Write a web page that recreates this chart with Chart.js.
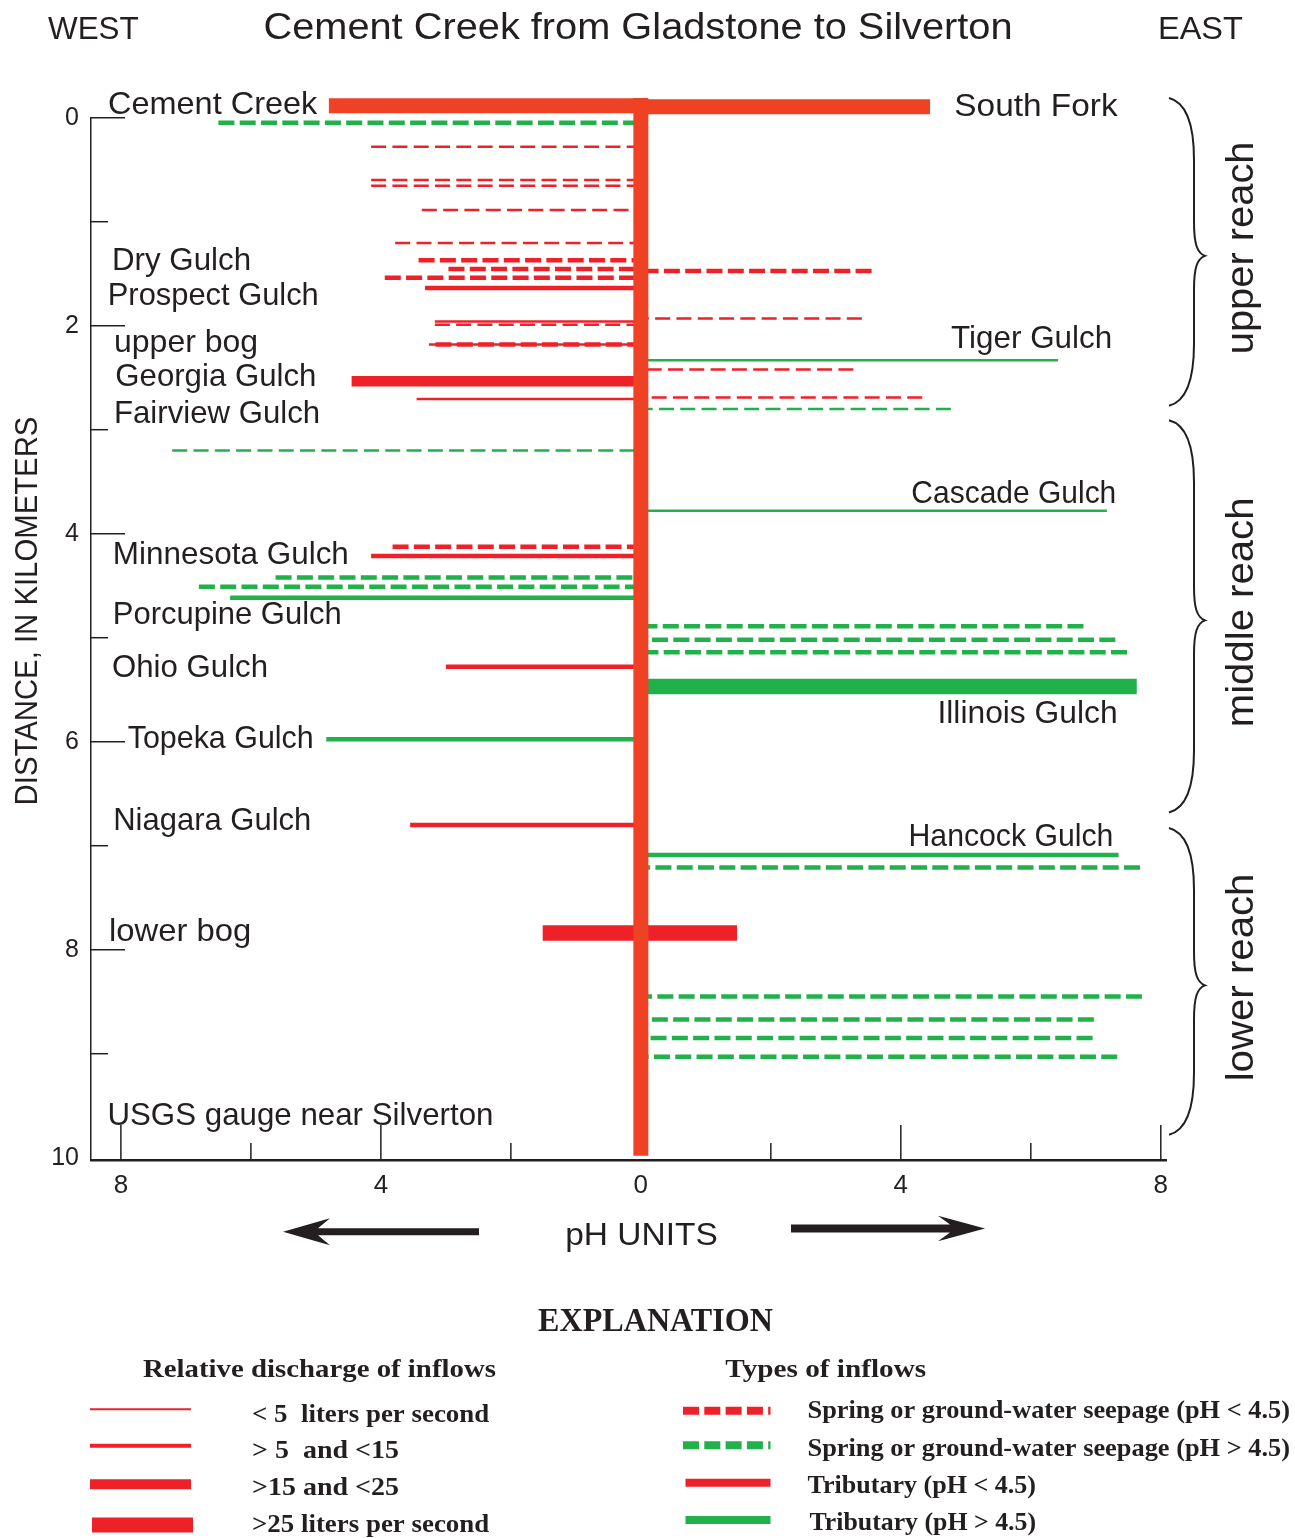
<!DOCTYPE html>
<html>
<head>
<meta charset="utf-8">
<title>Cement Creek from Gladstone to Silverton</title>
<script src="https://cdn.jsdelivr.net/npm/chart.js@4.4.1/dist/chart.umd.min.js"></script>
<style>
  html, body { margin: 0; padding: 0; background: #ffffff; }
  canvas { display: block; }
</style>
</head>
<body>
<canvas id="creek" width="1295" height="1538"></canvas>
<script>
// ---- Inflows to Cement Creek (distance downstream, in km; pH signed by bank: west < 0 < east)
const inflowKm = [0.048, 0.279, 0.600, 0.655, 0.888, 1.205, 1.371, 1.455, 1.475, 1.538,
                  1.637, 1.930, 1.960, 1.990, 2.180, 2.180, 2.333, 2.420, 2.535, 2.690,
                  2.705, 2.800, 3.200, 3.780, 4.125, 4.214, 4.420, 4.510, 4.615, 4.890,
                  5.020, 5.140, 5.280, 5.470, 5.977, 6.800, 7.090, 7.210, 7.840, 7.840,
                  8.450, 8.670, 8.850, 9.030];
const inflowPh = [-6.50, -4.15, -4.15, -4.15, -3.37, -3.78, -3.42, -2.96, 3.55, -3.94,
                  -3.32, 3.40, -3.17, -3.17, -3.26, -3.16, 6.42, 3.27, -4.45, 4.33,
                  -3.45, 4.77, -7.21, 7.17, -3.82, -4.15, -5.62, -6.80, -6.32, 6.81,
                  7.30, 7.48, -3.00, 7.63, -4.84, -3.55, 7.35, 7.68, -1.51, 1.48,
                  7.71, 6.97, 6.95, 7.33];
// seep = spring or ground-water seepage, trib = tributary; lo = pH < 4.5, hi = pH > 4.5
const inflowType = ['seep-hi', 'seep-lo', 'seep-lo', 'seep-lo', 'seep-lo', 'seep-lo', 'seep-lo', 'seep-lo', 'seep-lo', 'seep-lo',
                    'trib-lo', 'seep-lo', 'trib-lo', 'seep-lo', 'trib-lo', 'seep-lo', 'trib-hi', 'seep-lo', 'trib-lo', 'seep-lo',
                    'trib-lo', 'seep-hi', 'seep-hi', 'trib-hi', 'seep-lo', 'trib-lo', 'seep-hi', 'seep-hi', 'trib-hi', 'seep-hi',
                    'seep-hi', 'seep-hi', 'trib-lo', 'trib-hi', 'trib-hi', 'trib-lo', 'trib-hi', 'seep-hi', 'trib-lo', 'trib-lo',
                    'seep-hi', 'seep-hi', 'seep-hi', 'seep-hi'];
// discharge class: 1 = <5, 2 = 5-15, 3 = 15-25, 4 = >25 liters per second
const inflowFlow = [2, 1, 1, 1, 1, 1, 2, 2, 2, 2,
                    2, 1, 1, 1, 1, 2, 1, 1, 3, 1,
                    1, 1, 1, 1, 2, 2, 2, 2, 2, 2,
                    2, 2, 2, 4, 2, 2, 2, 2, 4, 4,
                    2, 2, 2, 2];

// ---- Main stem and its two headwater forks
const headNames = ['Cement Creek', 'South Fork'];
const headKm = [-0.115, -0.105];
const headPh = [-4.80, 4.45];
const stemKm = [-0.19, 9.98];

// ---- Axis ticks
const phTicks = [-8, -6, -4, -2, 0, 2, 4, 6, 8];
const phLabelled = [-8, -4, 0, 4, 8];
const kmTicks = [0, 1, 2, 3, 4, 5, 6, 7, 8, 9, 10];
const kmLabelled = [0, 2, 4, 6, 8, 10];

// ---- Reaches of the creek
const reachNames = ['upper reach', 'middle reach', 'lower reach'];
const reachFromKm = [-0.19, 2.91, 6.83];
const reachToKm = [2.77, 6.68, 9.78];

// ---- Styling
const ink = '#231f20';
const red = '#ed2127';
const green = '#20b14b';
const stemColor = '#ef4123';
const sans = "'Liberation Sans', Arial, Helvetica, sans-serif";
const serif = "'Liberation Serif', 'Times New Roman', serif";
const typeColor = { 'seep-lo': red, 'seep-hi': green, 'trib-lo': red, 'trib-hi': green };
const flowWidth = [0, 2.5, 4.5, 10.5, 15.5];
const thinDash = [15, 6.3];
const mediumDash = [16, 5.3];

// site names placed beside the creek: [text, pH anchor, km baseline, ink width, align]
const siteLabels = [
  ['Cement Creek', -8.198, -0.033, 209, 'left'],
  ['South Fork', 4.823, -0.016, 163, 'left'],
  ['Dry Gulch', -8.137, 1.464, 135, 'left'],
  ['Prospect Gulch', -8.202, 1.801, 207, 'left'],
  ['upper bog', -8.106, 2.250, 141, 'left'],
  ['Georgia Gulch', -8.086, 2.580, 198, 'left'],
  ['Fairview Gulch', -8.106, 2.933, 202, 'left'],
  ['Minnesota Gulch', -8.125, 4.294, 232, 'left'],
  ['Porcupine Gulch', -8.125, 4.868, 225, 'left'],
  ['Ohio Gulch', -8.137, 5.381, 153, 'left'],
  ['Topeka Gulch', -7.895, 6.058, 184, 'left'],
  ['Niagara Gulch', -8.118, 6.849, 194, 'left'],
  ['lower bog', -8.183, 7.913, 138, 'left'],
  ['USGS gauge near Silverton', -8.208, 9.686, 382, 'left'],
  ['Tiger Gulch', 7.251, 2.217, 159, 'right'],
  ['Cascade Gulch', 7.315, 3.706, 202, 'right'],
  ['Illinois Gulch', 7.335, 5.823, 176, 'right'],
  ['Hancock Gulch', 7.271, 7.000, 201, 'right']
];

// ---- Datasets: main stem drawn first so it sits on top of the inflow ends
const common = { showLine: true, pointRadius: 0, pointHoverRadius: 0, pointHitRadius: 0, clip: false, fill: false, tension: 0 };
const datasets = [];
datasets.push(Object.assign({ label: 'Cement Creek', data: stemKm.map(k => ({ x: 0, y: k })), borderColor: stemColor, borderWidth: 15 }, common));
headKm.forEach((k, i) => {
  datasets.push(Object.assign({ label: headNames[i], data: [{ x: headPh[i], y: k }, { x: 0, y: k }], borderColor: stemColor, borderWidth: 15 }, common));
});
inflowKm.forEach((k, i) => {
  const seep = inflowType[i].startsWith('seep');
  const flow = inflowFlow[i];
  datasets.push(Object.assign({
    label: inflowType[i],
    data: [{ x: inflowPh[i], y: k }, { x: 0, y: k }],
    borderColor: typeColor[inflowType[i]],
    borderWidth: flowWidth[flow],
    borderDash: seep ? (flow === 1 ? thinDash : mediumDash) : []
  }, common));
});

// text drawn to a given ink width
function drawText(ctx, str, x, y, o) {
  ctx.save();
  ctx.font = o.font;
  ctx.fillStyle = o.color || ink;
  ctx.textAlign = o.align || 'left';
  ctx.textBaseline = 'alphabetic';
  ctx.translate(x, y);
  if (o.rotate) ctx.rotate(o.rotate);
  if (o.width) {
    const m = ctx.measureText(str);
    const w = m.actualBoundingBoxLeft + m.actualBoundingBoxRight;
    if (w > 0) ctx.scale(o.width / w, 1);
  }
  ctx.fillText(str, 0, 0);
  ctx.restore();
}

function drawBrace(ctx, xEnd, xSpine, xTip, yTop, yTip, yBot) {
  ctx.beginPath();
  ctx.moveTo(xEnd, yTop);
  ctx.bezierCurveTo(xEnd + 16, yTop + 4, xSpine, yTop + 22, xSpine, yTop + 62);
  ctx.lineTo(xSpine, yTip - 34);
  ctx.bezierCurveTo(xSpine, yTip - 12, xSpine + 3, yTip - 3, xTip, yTip);
  ctx.bezierCurveTo(xSpine + 3, yTip + 3, xSpine, yTip + 12, xSpine, yTip + 34);
  ctx.lineTo(xSpine, yBot - 62);
  ctx.bezierCurveTo(xSpine, yBot - 22, xEnd + 16, yBot - 4, xEnd, yBot);
  ctx.stroke();
}

function drawArrow(ctx, xTail, xTip, yc, shaft, headLen, headHalf) {
  const dir = Math.sign(xTip - xTail);
  const xBarb = xTip - dir * headLen;
  const xNotch = xTip - dir * (headLen - 12);
  ctx.beginPath();
  ctx.moveTo(xTail, yc - shaft / 2);
  ctx.lineTo(xNotch, yc - shaft / 2);
  ctx.lineTo(xBarb, yc - headHalf);
  ctx.lineTo(xTip, yc);
  ctx.lineTo(xBarb, yc + headHalf);
  ctx.lineTo(xNotch, yc + shaft / 2);
  ctx.lineTo(xTail, yc + shaft / 2);
  ctx.closePath();
  ctx.fill();
}

function hLine(ctx, x0, x1, yc, width, color, dash) {
  ctx.save();
  ctx.strokeStyle = color;
  ctx.lineWidth = width;
  ctx.lineCap = 'butt';
  ctx.setLineDash(dash || []);
  ctx.beginPath();
  ctx.moveTo(x0, yc);
  ctx.lineTo(x1, yc);
  ctx.stroke();
  ctx.restore();
}

const annotate = {
  id: 'annotate',
  beforeDatasetsDraw(chart) {
    // tick marks pointing into the plot
    const { ctx, scales: { x, y } } = chart;
    ctx.save();
    ctx.strokeStyle = ink;
    ctx.lineWidth = 1.5;
    kmTicks.forEach(v => {
      if (v === 10) return;
      const py = y.getPixelForValue(v);
      const len = kmLabelled.includes(v) ? 34 : 17;
      ctx.beginPath();
      ctx.moveTo(x.left, py);
      ctx.lineTo(x.left + len, py);
      ctx.stroke();
    });
    phTicks.forEach(v => {
      if (v === 0) return;
      const px = x.getPixelForValue(v);
      const len = phLabelled.includes(v) ? 35 : 17;
      ctx.beginPath();
      ctx.moveTo(px, y.bottom);
      ctx.lineTo(px, y.bottom - len);
      ctx.stroke();
    });
    ctx.restore();
  },
  afterDraw(chart) {
    const { ctx, scales: { x, y } } = chart;
    const labelFont = '30.5px ' + sans;

    // headings
    drawText(ctx, 'Cement Creek from Gladstone to Silverton', 638, 39.3, { font: '37.7px ' + sans, align: 'center', width: 746 });
    drawText(ctx, 'WEST', 48, 39.3, { font: '30.7px ' + sans, width: 91 });
    drawText(ctx, 'EAST', 1158, 39.3, { font: '30.7px ' + sans, width: 83 });

    // site names
    siteLabels.forEach(([t, ph, km, w, align]) => {
      drawText(ctx, t, x.getPixelForValue(ph), y.getPixelForValue(km), { font: labelFont, width: w, align });
    });

    // axis titles
    drawText(ctx, 'DISTANCE, IN KILOMETERS', 37.3, 611, { font: '31.5px ' + sans, align: 'center', rotate: -Math.PI / 2, width: 386 });
    drawText(ctx, 'pH UNITS', 641.5, 1245, { font: '32px ' + sans, align: 'center', width: 149 });

    // direction arrows under the pH axis
    ctx.save();
    ctx.fillStyle = ink;
    drawArrow(ctx, 479, 283, 1231.7, 7, 47, 13.5);
    drawArrow(ctx, 791, 985, 1228.5, 8, 47, 12.8);
    ctx.restore();

    // reach braces and names
    ctx.save();
    ctx.strokeStyle = ink;
    ctx.lineWidth = 2;
    reachNames.forEach((name, i) => {
      const yTop = y.getPixelForValue(reachFromKm[i]);
      const yBot = y.getPixelForValue(reachToKm[i]);
      const yMid = (yTop + yBot) / 2;
      drawBrace(ctx, 1169, 1194, 1205, yTop, yMid + 4, yBot);
      drawText(ctx, name, 1253, yMid - 4, { font: '39px ' + sans, align: 'center', rotate: -Math.PI / 2, width: [209, 226, 204][i] });
    });
    ctx.restore();

    // ---- explanation
    const head = 'bold 34.5px ' + serif;
    const sub = 'bold 25.5px ' + serif;
    drawText(ctx, 'EXPLANATION', 655.5, 1330.7, { font: head, align: 'center', width: 235 });
    drawText(ctx, 'Relative discharge of inflows', 143, 1377.3, { font: sub, width: 353 });
    drawText(ctx, 'Types of inflows', 725.3, 1377.3, { font: sub, width: 201 });

    const flowText = ['< 5  liters per second', '> 5  and <15', '>15 and <25', '>25 liters per second'];
    const flowTextW = [236, 145, 145, 236];
    const flowSampleY = [1409.3, 1445.7, 1484.3, 1525];
    const flowTextY = [1421.7, 1458.3, 1495, 1531.7];
    const flowSampleW = [2, 4, 10, 15];
    flowText.forEach((t, i) => {
      const x0 = i === 3 ? 92 : 90;
      hLine(ctx, x0, x0 + 101, flowSampleY[i], flowSampleW[i], red);
      drawText(ctx, t, 252, flowTextY[i], { font: sub, width: flowTextW[i] });
    });

    const typeText = ['Spring or ground-water seepage (pH < 4.5)', 'Spring or ground-water seepage (pH > 4.5)', 'Tributary (pH < 4.5)', 'Tributary (pH > 4.5)'];
    const typeTextW = [481, 481, 228, 226];
    const typeSampleY = [1410.7, 1445.3, 1482.7, 1520];
    const typeTextY = [1418.3, 1455.7, 1492.7, 1530];
    const typeSampleColor = [red, green, red, green];
    const typeSampleDash = [mediumDash, mediumDash, [], []];
    typeText.forEach((t, i) => {
      hLine(ctx, i < 2 ? 683 : 685.5, 770.5, typeSampleY[i], 8, typeSampleColor[i], typeSampleDash[i]);
      drawText(ctx, t, i === 3 ? 809.5 : 807.5, typeTextY[i], { font: sub, width: typeTextW[i] });
    });
  }
};

new Chart(document.getElementById('creek'), {
  type: 'scatter',
  data: { datasets },
  options: {
    responsive: false,
    animation: false,
    events: [],
    layout: { padding: { top: 117.7, left: 0, right: 129, bottom: 318 } },
    plugins: { legend: { display: false }, tooltip: { enabled: false } },
    scales: {
      x: {
        type: 'linear',
        min: -8.46,
        max: 8.08,
        afterBuildTicks: s => { s.ticks = phTicks.map(v => ({ value: v })); },
        afterFit: s => { s.height = 60; },
        grid: { display: false, drawTicks: false },
        border: { display: true, color: ink, width: 2.5 },
        ticks: {
          autoSkip: false, maxRotation: 0, padding: 10, color: ink,
          font: { family: sans, size: 26 },
          callback: v => phLabelled.includes(v) ? String(Math.abs(v)) : ''
        }
      },
      y: {
        type: 'linear',
        reverse: true,
        min: 0,
        max: 10.022,
        afterBuildTicks: s => { s.ticks = kmTicks.map(v => ({ value: v })); },
        afterFit: s => { s.width = 91; },
        grid: { display: false, drawTicks: false },
        border: { display: true, color: ink, width: 1.5 },
        ticks: {
          autoSkip: false, padding: 12, color: ink,
          font: { family: sans, size: 25 },
          callback: v => kmLabelled.includes(v) ? String(v) : ''
        }
      }
    }
  },
  plugins: [annotate]
});
</script>
</body>
</html>
